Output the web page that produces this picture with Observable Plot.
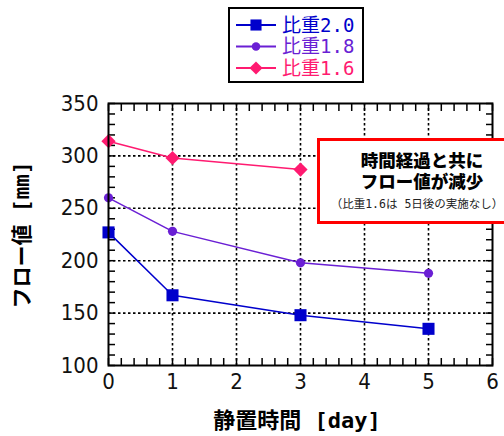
<!DOCTYPE html>
<html><head><meta charset="utf-8">
<script src="https://cdn.jsdelivr.net/npm/d3@7"></script>
<script src="https://cdn.jsdelivr.net/npm/@observablehq/plot@0.6"></script>
<style>
body{margin:0;background:#fff;}
#wrap{position:relative;width:504px;height:436px;overflow:hidden;}
.cjk{font-family:"DejaVu Sans Mono","Noto Sans CJK JP",sans-serif;}
</style></head><body>
<div id="wrap"></div>
<script>
const days = [0, 1, 3, 5];
const days16 = [0, 1, 3];
const seriesNames = ["比重2.0", "比重1.8", "比重1.6"];
const seriesColors = ["#0000CC", "#6A1FD4", "#FF1A70"];
const seriesSymbols = ["square", "circle", "diamond2"];
const s20 = [227, 167, 148, 135];
const s18 = [260, 228, 198, 188];
const s16 = [314, 298, 287];
const xTicks = [0, 1, 2, 3, 4, 5, 6];
const yTicks = [100, 150, 200, 250, 300, 350];
const yTitle = "フロー値 [mm]";
const xTitle = "静置時間 [day]";
const noteLines = ["時間経過と共に", "フロー値が減少"];
const noteSmall = "（比重1.6は 5日後の実施なし）";

const rows = [
  ...days.map((d, i) => ({day: d, v: s20[i], s: seriesNames[0]})),
  ...days.map((d, i) => ({day: d, v: s18[i], s: seriesNames[1]})),
  ...days16.map((d, i) => ({day: d, v: s16[i], s: seriesNames[2]}))
];
const minorX = d3.range(0, 6.001, 0.2).map(v => +v.toFixed(1));
const minorY = d3.range(100, 351, 10);
const radii = [6.8, 4.6, 6.4];
const T = 7;
const mono = "'DejaVu Sans Mono', 'Noto Sans CJK JP', sans-serif";

const marks = [
  Plot.gridX([1, 2, 3, 4, 5], {stroke: "black", strokeOpacity: 1, strokeWidth: 1.6, strokeDasharray: "2.5,2.5"}),
  Plot.gridY([150, 200, 250, 300], {stroke: "black", strokeOpacity: 1, strokeWidth: 1.6, strokeDasharray: "2.5,2.5"}),
  Plot.axisX({anchor: "bottom", ticks: minorX, tickSize: T, dy: -T, tickFormat: () => "", strokeWidth: 1.5, strokeOpacity: 1}),
  Plot.axisX({anchor: "top", ticks: minorX, tickSize: T, dy: T, tickFormat: () => "", strokeWidth: 1.5, strokeOpacity: 1}),
  Plot.axisY({anchor: "left", ticks: minorY, tickSize: T, dx: T, tickFormat: () => "", strokeWidth: 1.5, strokeOpacity: 1}),
  Plot.axisY({anchor: "right", ticks: minorY, tickSize: T, dx: -T, tickFormat: () => "", strokeWidth: 1.5, strokeOpacity: 1}),
  Plot.axisX({anchor: "bottom", ticks: xTicks, tickSize: 0, tickPadding: 8, tickFormat: d3.format("d"), label: null, fill: "#111"}),
  Plot.axisY({anchor: "left", ticks: yTicks, tickSize: 0, tickPadding: 10, tickFormat: d3.format("d"), label: null, fill: "#111"}),
];
seriesNames.forEach((name, i) => {
  const data = rows.filter(r => r.s === name);
  marks.push(Plot.line(data, {x: "day", y: "v", stroke: seriesColors[i], strokeWidth: 1.5}));
  marks.push(Plot.dot(data, {x: "day", y: "v", fill: seriesColors[i], symbol: seriesSymbols[i], r: radii[i], stroke: "none"}));
});
marks.push(Plot.frame({stroke: "black", strokeWidth: 2}));

const chart = Plot.plot({
  width: 504, height: 436,
  marginLeft: 108, marginRight: 12, marginTop: 103, marginBottom: 71,
  x: {domain: [0, 6], label: null},
  y: {domain: [100, 350], label: null},
  style: {fontFamily: "'DejaVu Sans Condensed', 'DejaVu Sans', sans-serif", fontSize: "22px", background: "white", overflow: "visible"},
  marks
});
const wrap = document.getElementById("wrap");
wrap.appendChild(chart);

// Axis titles
const yt = document.createElement("div");
yt.className = "cjk";
yt.textContent = yTitle;
Object.assign(yt.style, {position: "absolute", left: "22px", top: "235px", transform: "translate(-50%,-50%) rotate(-90deg)", fontSize: "21px", fontWeight: "bold", whiteSpace: "nowrap", color: "#000", lineHeight: "1"});
wrap.appendChild(yt);
const xt = document.createElement("div");
xt.className = "cjk";
xt.textContent = xTitle;
Object.assign(xt.style, {position: "absolute", left: "297px", top: "421px", transform: "translate(-50%,-50%)", fontSize: "22px", fontWeight: "bold", whiteSpace: "nowrap", color: "#000", lineHeight: "1"});
wrap.appendChild(xt);

// Legend
const leg = d3.select(wrap).append("div")
  .style("position", "absolute").style("left", "228px").style("top", "7px")
  .style("width", "132px").style("height", "72px")
  .style("border", "2px solid black").style("background", "white");
const lsvg = leg.append("svg").attr("width", 132).attr("height", 72).style("display", "block");
seriesNames.forEach((name, i) => {
  const g = lsvg.append("g").attr("transform", `translate(0,${16 + i * 21.5})`);
  g.append("line").attr("x1", 6).attr("x2", 46).attr("stroke", seriesColors[i]).attr("stroke-width", 2);
  const sym = {square: d3.symbolSquare, circle: d3.symbolCircle, diamond2: d3.symbolDiamond2}[seriesSymbols[i]];
  g.append("path").attr("transform", "translate(26,0)").attr("d", d3.symbol(sym, Math.PI * radii[i] * radii[i] * 0.85)()).attr("fill", seriesColors[i]);
  g.append("text").attr("x", 52).attr("y", 0).attr("dy", "0.36em").attr("fill", seriesColors[i])
    .attr("font-family", mono).attr("font-size", 19).text(name);
});

// Annotation box
const note = d3.select(wrap).append("div")
  .style("position", "absolute").style("left", "317px").style("top", "138px")
  .style("width", "200px").style("height", "80px")
  .style("border", "3px solid #FF0000").style("background", "white");
const nsvg = note.append("svg").attr("width", 200).attr("height", 80).style("display", "block");
noteLines.forEach((t, i) => {
  nsvg.append("text").attr("x", 102).attr("y", 20 + i * 21).attr("dy", "0.36em").attr("text-anchor", "middle")
    .attr("font-family", "'Noto Sans CJK JP', sans-serif").attr("font-weight", "900").attr("font-size", 17.5).text(t);
});
nsvg.append("text").attr("x", 97).attr("y", 62.5).attr("dy", "0.36em").attr("text-anchor", "middle")
  .attr("font-family", mono).attr("font-size", 11.5).attr("fill", "#222").text(noteSmall);
</script>
</body></html>
